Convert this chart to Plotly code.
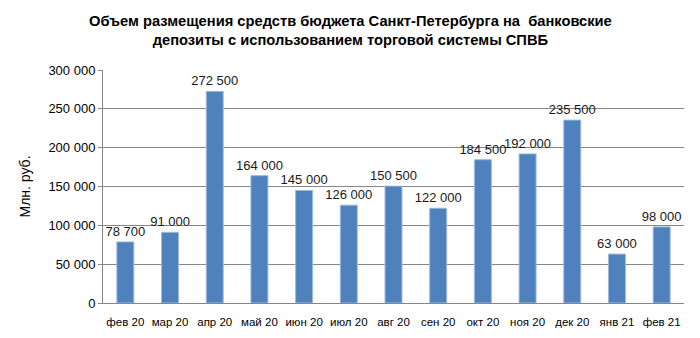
import plotly.graph_objects as go

months = ["фев 20", "мар 20", "апр 20", "май 20", "июн 20", "июл 20", "авг 20",
          "сен 20", "окт 20", "ноя 20", "дек 20", "янв 21", "фев 21"]
volumes = [78700, 91000, 272500, 164000, 145000, 126000, 150500,
           122000, 184500, 192000, 235500, 63000, 98000]
y_ticks = [0, 50000, 100000, 150000, 200000, 250000, 300000]

FONT = "Liberation Sans, Arial, sans-serif"
title_text = ("Объем размещения средств бюджета Санкт-Петербурга на  банковские<br>"
              "депозиты с использованием торговой системы СПВБ")

fig = go.Figure()
fig.add_trace(go.Bar(
    x=months, y=volumes,
    marker=dict(color="#4F81BD", line=dict(color="#9BBBE0", width=1)),
    texttemplate="%{y:,d}", textposition="outside", constraintext="none",
    textfont=dict(family=FONT, size=13, color="#1a1a1a"),
    cliponaxis=False,
))

fig.update_layout(
    width=700, height=338,
    margin=dict(l=103, r=16, t=70, b=35),
    paper_bgcolor="white", plot_bgcolor="white",
    separators=", ",
    bargap=0.62,
    showlegend=False,
    annotations=[dict(
        text=title_text, xref="paper", yref="paper",
        x=(350 - 103) / 581, y=(303 - 31) / 233,
        xanchor="center", yanchor="middle", showarrow=False,
        font=dict(family=FONT, size=14.7, color="#000000", weight="bold"),
        align="center",
    )],
    xaxis=dict(
        showline=True, linecolor="#868686", linewidth=1,
        ticks="", tickfont=dict(family=FONT, size=11.5, color="#000000"),
        ticklabelstandoff=8, automargin=False,
        showgrid=False,
    ),
    yaxis=dict(
        range=[0, 300000], tickvals=y_ticks, tickformat=",d",
        showline=True, linecolor="#868686", linewidth=1,
        ticks="outside", ticklen=4, tickcolor="#868686",
        gridcolor="#868686", gridwidth=1, automargin=False,
        tickfont=dict(family=FONT, size=13, color="#000000"),
        title=dict(text="Млн. руб.", font=dict(family=FONT, size=14, color="#000000"), standoff=14),
        zeroline=False,
    ),
)

fig.write_html("out.html")
